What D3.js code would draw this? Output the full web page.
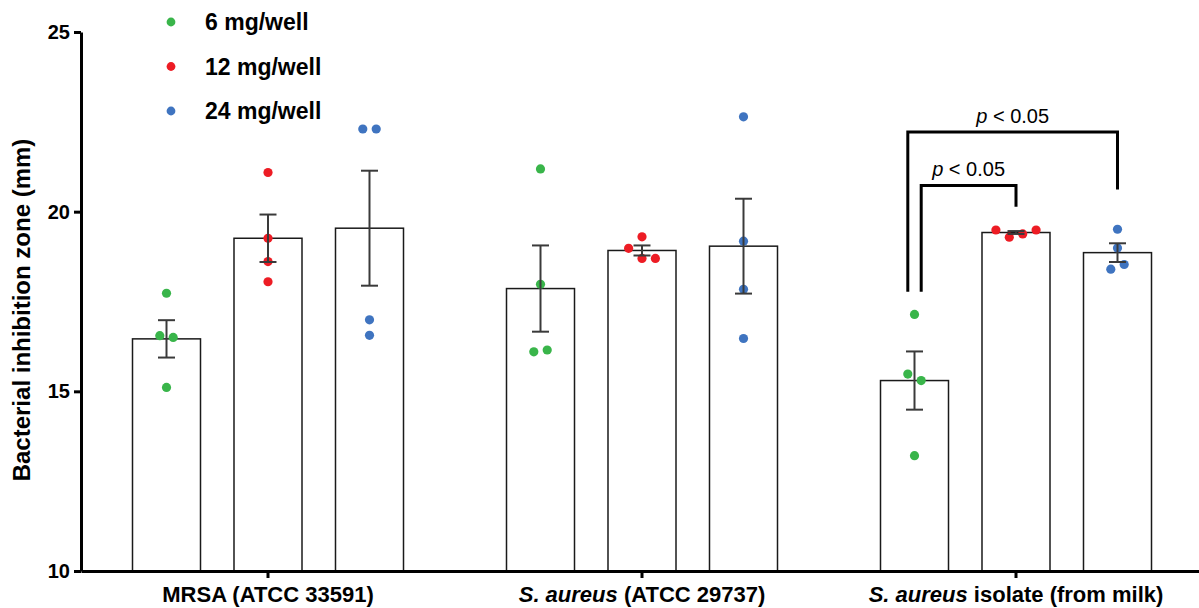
<!DOCTYPE html>
<html>
<head>
<meta charset="utf-8">
<script src="https://cdn.jsdelivr.net/npm/d3@7"></script>
<style>
  html, body { margin: 0; padding: 0; background: #fff; }
  svg { display: block; font-family: "Liberation Sans", Arial, Helvetica, sans-serif; }
</style>
</head>
<body>
<svg id="chart" width="1199" height="608"></svg>
<script>
// ---------------- data ----------------
const groups = ["MRSA (ATCC 33591)", "S. aureus (ATCC 29737)", "S. aureus isolate (from milk)"];
const groupItalic = ["", "S. aureus", "S. aureus"];
const groupRest = ["MRSA (ATCC 33591)", " (ATCC 29737)", " isolate (from milk)"];
const series = ["6 mg/well", "12 mg/well", "24 mg/well"];
const seriesColors = ["#39b54a", "#ed1c24", "#3f74c0"];

// bar means (mm) per group
const mean6  = [16.46, 17.86, 15.30];
const mean12 = [19.26, 18.92, 19.42];
const mean24 = [19.54, 19.04, 18.86];
// SEM per group
const sem6  = [0.52, 1.20, 0.81];
const sem12 = [0.66, 0.14, 0.04];
const sem24 = [1.60, 1.32, 0.26];

// individual replicates per group
const pts6  = [[17.73, 16.55, 16.50, 15.11], [21.19, 17.98, 16.10, 16.15], [17.14, 15.48, 15.30, 13.21]];
const pts12 = [[21.09, 19.26, 18.61, 18.05], [19.30, 18.98, 18.70, 18.70], [19.49, 19.29, 19.38, 19.49]];
const pts24 = [[22.30, 22.30, 16.99, 16.56], [22.64, 19.18, 17.84, 16.47], [19.51, 18.99, 18.40, 18.53]];
// jitter slot of each replicate (categorical order within a bar)
const slot6  = [[0, -0.5, 0.5, 0], [0, 0, -0.5, 0.5], [0, -0.5, 0.5, 0]];
const slot12 = [[0, 0, 0, 0], [0, -1, 0, 1], [-1.5, -0.5, 0.5, 1.5]];
const slot24 = [[-0.5, 0.5, 0, 0], [0, 0, 0, 0], [0, 0, -0.5, 0.5]];

const yTicks = [10, 15, 20, 25];
const yLabel = "Bacterial inhibition zone (mm)";

// significance brackets (group 3): from series a -> series b
const sigLabels = ["p < 0.05", "p < 0.05"];
const sigFrom = [0, 0];         // series index (left end)
const sigFromSlot = [-0.5, 0.5];
const sigTo = [2, 1];           // series index (right end)
const sigTop = [22.22, 20.73];  // value of horizontal line
const sigLeftEnd = [17.77, 17.77];
const sigRightEnd = [20.62, 20.14];

// ---------------- layout ----------------
const svg = d3.select("#chart");
const FONT = "'Liberation Sans', Arial, Helvetica, sans-serif";

const x0 = d3.scaleBand().domain(groups).range([81, 1203]).paddingInner(0).paddingOuter(0);
const x1 = d3.scaleBand().domain(series).range([51.5, 322.5]).paddingInner(0.33).paddingOuter(0);
const y = d3.scaleLinear().domain([10, 25]).range([571, 32]);
const slotStep = 13.4;

const means = [mean6, mean12, mean24];
const sems = [sem6, sem12, sem24];
const pts = [pts6, pts12, pts24];
const slots = [slot6, slot12, slot24];

const barData = [];
groups.forEach((g, gi) => {
  series.forEach((s, si) => {
    barData.push({ g, gi, s, si, mean: means[si][gi], sem: sems[si][gi] });
  });
});
const cx = d => x0(d.g) + x1(d.s) + x1.bandwidth() / 2;

// bars
svg.append("g").selectAll("rect").data(barData).join("rect")
  .attr("x", d => x0(d.g) + x1(d.s))
  .attr("y", d => y(d.mean))
  .attr("width", x1.bandwidth())
  .attr("height", d => y(10) - y(d.mean))
  .attr("fill", "#fff")
  .attr("stroke", "#1a1a1a")
  .attr("stroke-width", 1.5);

// points
const pointData = [];
barData.forEach(b => {
  pts[b.si][b.gi].forEach((v, k) => {
    pointData.push({ ...b, v, slot: slots[b.si][b.gi][k] });
  });
});
svg.append("g").selectAll("circle").data(pointData).join("circle")
  .attr("cx", d => cx(d) + d.slot * slotStep)
  .attr("cy", d => y(d.v))
  .attr("r", 4.6)
  .attr("fill", d => seriesColors[d.si]);

// error bars
const eb = svg.append("g").attr("stroke", "#3a3a3a").attr("stroke-width", 2);
const capW = 8.5;
barData.forEach(d => {
  const c = cx(d), t = y(d.mean + d.sem), b = y(d.mean - d.sem);
  eb.append("line").attr("x1", c).attr("x2", c).attr("y1", t).attr("y2", b);
  eb.append("line").attr("x1", c - capW).attr("x2", c + capW).attr("y1", t).attr("y2", t);
  eb.append("line").attr("x1", c - capW).attr("x2", c + capW).attr("y1", b).attr("y2", b);
});

// y axis
const yAxis = svg.append("g").attr("transform", "translate(81,0)")
  .call(d3.axisLeft(y).tickValues(yTicks).tickSize(7).tickSizeOuter(0).tickPadding(4));
yAxis.select(".domain").attr("stroke", "#000").attr("stroke-width", 3);
yAxis.selectAll(".tick line").attr("stroke", "#000").attr("stroke-width", 3);
yAxis.selectAll(".tick text").attr("font-family", FONT).attr("font-size", 20)
  .attr("font-weight", "bold").attr("fill", "#000");

// x axis
const xAxis = svg.append("g").attr("transform", "translate(0,571)")
  .call(d3.axisBottom(x0).tickSize(7).tickSizeOuter(0).tickFormat(""));
xAxis.select(".domain").attr("stroke", "#000").attr("stroke-width", 3);
xAxis.selectAll(".tick line").attr("stroke", "#000").attr("stroke-width", 3);
xAxis.selectAll(".tick text").remove();
xAxis.selectAll(".tick").each(function (g) {
  const gi = groups.indexOf(g);
  const t = d3.select(this).append("text")
    .attr("y", 31).attr("text-anchor", "middle")
    .attr("font-family", FONT).attr("font-size", 22).attr("font-weight", "bold").attr("fill", "#000");
  if (groupItalic[gi]) t.append("tspan").attr("font-style", "italic").text(groupItalic[gi]);
  t.append("tspan").text(groupRest[gi]);
});

// y label
svg.append("text")
  .attr("transform", "translate(30,310) rotate(-90)")
  .attr("text-anchor", "middle")
  .attr("font-family", FONT).attr("font-size", 24).attr("font-weight", "bold").attr("fill", "#000")
  .text(yLabel);

// legend
const legend = svg.append("g");
series.forEach((s, i) => {
  const ly = 22 + i * 44.5;
  legend.append("circle").attr("cx", 171).attr("cy", ly).attr("r", 4.4).attr("fill", seriesColors[i]);
  legend.append("text").attr("x", 205).attr("y", ly + 8)
    .attr("font-family", FONT).attr("font-size", 23).attr("font-weight", "bold").attr("fill", "#000")
    .text(s);
});

// significance brackets
const g3 = groups[2];
const br = svg.append("g");
sigLabels.forEach((lab, i) => {
  const xl = x0(g3) + x1(series[sigFrom[i]]) + x1.bandwidth() / 2 + sigFromSlot[i] * slotStep;
  const xr = x0(g3) + x1(series[sigTo[i]]) + x1.bandwidth() / 2;
  br.append("path")
    .attr("d", `M${xl},${y(sigLeftEnd[i])}V${y(sigTop[i])}H${xr}V${y(sigRightEnd[i])}`)
    .attr("fill", "none").attr("stroke", "#000").attr("stroke-width", 3);
  const t = br.append("text").attr("x", (xl + xr) / 2).attr("y", y(sigTop[i]) - 9)
    .attr("text-anchor", "middle").attr("font-family", FONT).attr("font-size", 20).attr("fill", "#000");
  const parts = lab.split(" ");
  t.append("tspan").attr("font-style", "italic").text(parts[0]);
  t.append("tspan").text(" " + parts.slice(1).join(" "));
});
</script>
</body>
</html>
